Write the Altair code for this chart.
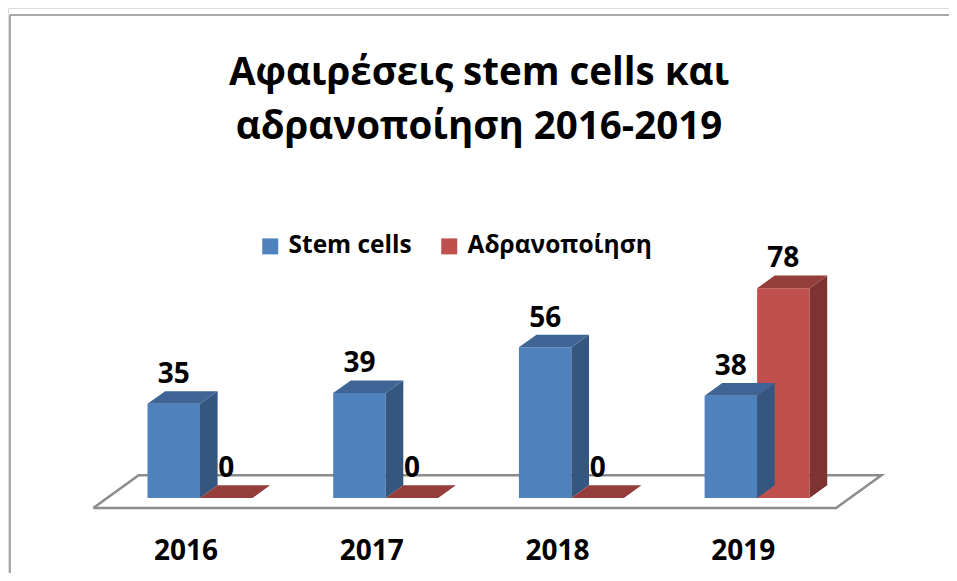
import altair as alt
import pandas as pd

# ---- data ----
years = ["2016", "2017", "2018", "2019"]
stem_cells = [35, 39, 56, 38]
inactivation = [0, 0, 0, 78]
series_names = ["Stem cells", "Αδρανοποίηση"]
title_lines = ["Αφαιρέσεις stem cells και", "αδρανοποίηση 2016-2019"]

# ---- styling / geometry (pixels) ----
FONT = "Open Sans"
W, H = 941, 565
PAIR0_PX = 200 - 8          # x of first category centre in chart px
SPACING_PX = 185.7          # px per category
BASE_PX = 498 - 8           # y of value 0
PX_PER_VAL = 2.69
BAR_W_PX = 52.5
DEPTH_X_PX, DEPTH_Y_PX = 17.6, 12.7
FRONT_COL = {"Stem cells": "#4F81BD", "Αδρανοποίηση": "#C0504D"}
SIDE_COL = {"Stem cells": "#34567F", "Αδρανοποίηση": "#7C3331"}
TOP_COL = {"Stem cells": "#3E6596", "Αδρανοποίηση": "#953D3A"}

x_dom = [(0 - PAIR0_PX) / SPACING_PX, (W - PAIR0_PX) / SPACING_PX]
y_dom = [(BASE_PX - H) / PX_PER_VAL, BASE_PX / PX_PER_VAL]
bw = BAR_W_PX / SPACING_PX
ddx = DEPTH_X_PX / SPACING_PX
ddy = DEPTH_Y_PX / PX_PER_VAL

xs = alt.Scale(domain=x_dom, nice=False, zero=False)
ys = alt.Scale(domain=y_dom, nice=False, zero=False)
X = lambda f: alt.X(f, type="quantitative", scale=xs, axis=None)
Y = lambda f: alt.Y(f, type="quantitative", scale=ys, axis=None)

front, side, top, labels, cats = [], [], [], [], []
for i, yr in enumerate(years):
    for j, (name, vals) in enumerate(zip(series_names, [stem_cells, inactivation])):
        v = vals[i]
        x0 = i + (j - 1) * bw
        x1 = x0 + bw
        bid = f"{yr}-{j}"
        front.append(dict(x=x0, x2=x1, y=0, y2=v, s=name))
        side.append(dict(b=bid, x=x1, lo=0, hi=v, c=SIDE_COL[name]))
        side.append(dict(b=bid, x=x1 + ddx, lo=ddy, hi=v + ddy, c=SIDE_COL[name]))
        for xx, lo, hi in [(x0, v, v), (x0 + ddx, v, v + ddy), (x1, v, v + ddy), (x1 + ddx, v + ddy, v + ddy)]:
            top.append(dict(b=bid, x=xx, lo=lo, hi=hi, c=TOP_COL[name]))
        labels.append(dict(x=(x0 + x1) / 2, y=v + ddy, t=str(v)))
    cats.append(dict(x=i - 13.9 / SPACING_PX, y=-62 / PX_PER_VAL, t=yr))

# floor (in front plane units, depth from -10px to +22.7px)
fl, fr = -0.5, 3.5
def dpt(d):
    return d * (DEPTH_X_PX / DEPTH_Y_PX) / SPACING_PX, d / PX_PER_VAL
floor = []
for k, (xb, d) in enumerate([(fl, -10), (fr, -10), (fr, 22.7), (fl, 22.7), (fl, -10)]):
    ox, oy = dpt(d)
    floor.append(dict(o=k, x=xb + ox, y=oy))

floor_l = alt.Chart(pd.DataFrame(floor)).mark_line(color="#8C8C8C", strokeWidth=2.5).encode(
    x=X("x"), y=Y("y"), order="o:Q")

front_l = alt.Chart(pd.DataFrame(front)).mark_rect().encode(
    x=X("x"), x2="x2", y=Y("y"), y2="y2",
    color=alt.Color("s:N", scale=alt.Scale(domain=series_names, range=[FRONT_COL[n] for n in series_names]),
                    legend=alt.Legend(title=None, orient="none", legendX=250, legendY=226,
                                      direction="horizontal", symbolType="square", symbolSize=256,
                                      symbolStrokeWidth=0, labelFont=FONT, labelFontSize=24.5,
                                      labelFontWeight="bold", labelColor="#000", labelOffset=6,
                                      labelLimit=0, columnPadding=25, padding=0)))

side_l = alt.Chart(pd.DataFrame(side)).mark_area(interpolate="linear").encode(
    x=X("x"), y=Y("hi"), y2="lo", detail="b:N", color=alt.Color("c:N", scale=None))
top_l = alt.Chart(pd.DataFrame(top)).mark_area(interpolate="linear").encode(
    x=X("x"), y=Y("hi"), y2="lo", detail="b:N", color=alt.Color("c:N", scale=None))

lab_l = alt.Chart(pd.DataFrame(labels)).mark_text(
    font=FONT, fontSize=28, fontWeight="bold", color="#000", baseline="alphabetic", dy=-8).encode(
    x=X("x"), y=Y("y"), text="t:N")
cat_l = alt.Chart(pd.DataFrame(cats)).mark_text(
    font=FONT, fontSize=28, fontWeight="bold", color="#000", baseline="alphabetic").encode(
    x=X("x"), y=Y("y"), text="t:N")

title_l = alt.Chart(pd.DataFrame({"t": ["\n".join(title_lines)]})).mark_text(
    font=FONT, fontSize=38.5, fontWeight="bold", color="#000", baseline="alphabetic",
    lineBreak="\n", lineHeight=54, align="center").encode(
    x=alt.value(471), y=alt.value(77), text="t:N")

one = pd.DataFrame({"a": [0]})
border_h = alt.Chart(one).mark_rule(color="#8C8C8C", strokeWidth=1.5).encode(
    x=alt.value(2), x2=alt.value(W + 10), y=alt.value(7))
border_v = alt.Chart(one).mark_rule(color="#8C8C8C", strokeWidth=1.5).encode(
    x=alt.value(2), y=alt.value(7), y2=alt.value(H + 10))

chart = alt.layer(border_h, border_v, title_l, floor_l, front_l, side_l, top_l, lab_l, cat_l).resolve_scale(
    color="independent").properties(width=W, height=H, padding=0, autosize="none").configure_view(
    stroke=None).configure(background="#ffffff")

chart.save("out.html", embed_options={"renderer": "svg", "actions": False})
